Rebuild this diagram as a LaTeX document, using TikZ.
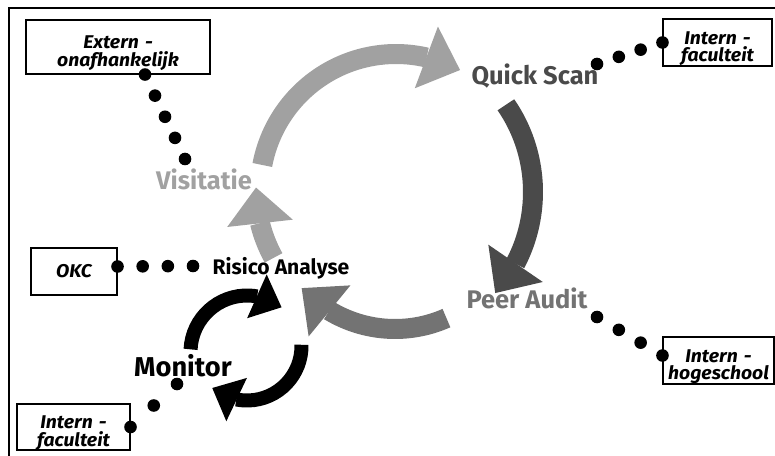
\documentclass[tikz,border=0pt]{standalone}
\usepackage{fontspec}
\setmainfont{Fira Sans}
\newfontfamily\boxfont{Fira Sans}[FakeStretch=1.05]
\usetikzlibrary{arrows.meta,bending,calc}

\definecolor{lightarc}{gray}{0.63}
\definecolor{midarc}{gray}{0.45}
\definecolor{darkarc}{gray}{0.29}

\begin{document}
\begin{tikzpicture}[x=0.02cm,y=-0.02cm,
    box node/.style={draw,line width=0.6pt,minimum height=9.4mm,inner sep=0pt,font=\boxfont\fontsize{10.5}{10}\selectfont\bfseries\itshape},
    two line/.style={minimum width=#1,text width=#1,align=center,text height=2pt,text depth=0pt},
    step node/.style={anchor=base,font=\fontsize{14.5}{16}\selectfont\bfseries},
    cycle arrow/.style={line width=4mm,-{Triangle[width=13.2mm,length=7.2mm,line width=0pt,flex]}},
    monitor arrow/.style={line width=2.8mm,-{Triangle[width=9.6mm,length=5.4mm,line width=0pt,flex]}},
    chain dot/.style={fill=black}]
    \useasboundingbox (0,0) rectangle (775,456);
    \draw[line width=0.8pt] (775,8) -- (9,8) -- (9,456);

    % boxes
    \node[box node,two line=3.68cm,minimum height=1.08cm] (ext) at (118,47) {Extern -\\onafhankelijk};
    \node[box node,two line=2.18cm] (ifac) at (717.5,42.5) {Intern -\\faculteit};
    \node[box node,minimum width=1.72cm] (okc) at (74,271.5) {OKC};
    \node[box node,two line=2.22cm] (ihs) at (718.5,360.5) {Intern -\\hogeschool};
    \node[box node,two line=2.26cm,minimum height=9.2mm] (ifac2) at (73.5,427) {Intern -\\faculteit};

    % cycle
    \coordinate (cyc) at (396,190);
    \coordinate (vis-out) at ($(cyc)+(190.6:136)$);
    \coordinate (qs-out) at ($(379,192)+(325.5:154)$);
    \coordinate (pa-out) at ($(395,202)+(66.1:127)$);
    \coordinate (ra-out) at ($(cyc)+(151:140)$);
    \draw[cycle arrow,lightarc] (vis-out) arc[start angle=190.6,end angle=298.1,radius=136];
    \draw[cycle arrow,darkarc] (qs-out) arc[start angle=325.5,end angle=401,radius=154];
    \draw[cycle arrow,midarc] (pa-out) arc[start angle=66.1,end angle=137.3,radius=127];
    \draw[cycle arrow,lightarc] (ra-out) arc[start angle=151,end angle=181,radius=140];

    % monitor loop
    \coordinate (mon-up) at ($(247,352)+(182.7:56.5)$);
    \coordinate (mon-down) at ($(247,346)+(-1.3:54.5)$);
    \draw[monitor arrow] (mon-up) arc[start angle=182.7,end angle=307.7,radius=56.5];
    \draw[monitor arrow] (mon-down) arc[start angle=-1.3,end angle=129.6,radius=54.5];

    % labels
    \node[step node,text=lightarc] (vis) at (204,190) {Visitatie};
    \node[step node,text=darkarc] (qs) at (535,85) {Quick Scan};
    \node[step node,text=midarc] (pa) at (527,308) {Peer Audit};
    \node[step node,font=\fontsize{12}{14}\selectfont\bfseries] (ra) at (281,275) {Risico Analyse};
    \node[step node,font=\fontsize{15.5}{17}\selectfont\bfseries] (mon) at (183,377) {Monitor};

    % dotted links
    \coordinate (ext-dot) at ($(ext.south)+(27,0)$);
    \coordinate (vis-dot) at (185,159);
    \coordinate (qs-dot) at (597,64);
    \coordinate (okc-dot) at ($(okc.east)+(0,-5)$);
    \coordinate (ra-dot) at (193,266);
    \coordinate (pa-dot) at (597,317);
    \coordinate (ihs-dot) at ($(ihs.west)+(0,-5)$);
    \coordinate (mon-dot) at (177,384);
    \foreach \a/\b/\n in {ext-dot/vis-dot/4,ifac.west/qs-dot/3,okc-dot/ra-dot/3,pa-dot/ihs-dot/3,ifac2.east/mon-dot/2}
        \foreach \i in {0,...,\n}
            \fill[chain dot] ($(\a)!\i/\n!(\b)$) circle (6.3);
\end{tikzpicture}
\end{document}
